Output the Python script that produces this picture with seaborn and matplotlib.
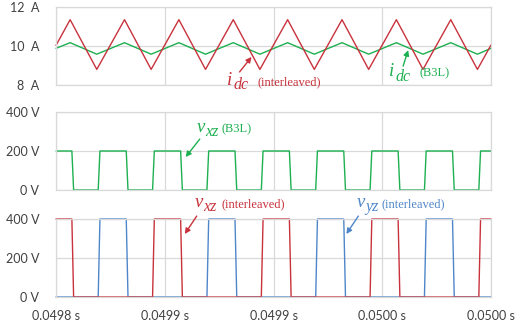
import matplotlib
matplotlib.use("Agg")
import matplotlib.pyplot as plt
import seaborn as sns
import numpy as np
import pandas as pd

# ---- data (time in microseconds after 0.0498 s) ----
t0 = 0.0498
idc_t_us = [0, 6.5, 18.75, 31.5, 43.75, 56.5, 68.75, 81.5, 93.75, 106.5, 118.75,
            131.5, 143.75, 156.5, 168.75, 181.5, 193.75, 200]
idc_interleaved = [10.03, 11.35, 8.8, 11.35, 8.8, 11.35, 8.8, 11.35, 8.8, 11.35, 8.8,
                   11.35, 8.8, 11.35, 8.8, 11.35, 8.8, 10.05]
idc_b3l = [9.88, 10.17, 9.58, 10.17, 9.58, 10.17, 9.58, 10.17, 9.58, 10.17, 9.58,
           10.17, 9.58, 10.17, 9.58, 10.17, 9.58, 9.88]

vxz_b3l_t_us = [0, 7.3, 8.1, 19.4, 20.2, 32.3, 33.1, 44.4, 45.2, 57.3, 58.1, 69.4, 70.2,
                82.3, 83.1, 94.4, 95.2, 107.3, 108.1, 119.4, 120.2, 132.3, 133.1, 144.4,
                145.2, 157.3, 158.1, 169.4, 170.2, 182.3, 183.1, 194.4, 195.2, 200]
vxz_b3l = [200, 200, 0, 0, 200, 200, 0, 0, 200, 200, 0, 0, 200,
           200, 0, 0, 200, 200, 0, 0, 200, 200, 0, 0,
           200, 200, 0, 0, 200, 200, 0, 0, 200, 200]

vxz_int_t_us = [0, 7.3, 8.1, 44.4, 45.2, 57.3, 58.1, 94.4, 95.2, 107.3, 108.1,
                144.4, 145.2, 157.3, 158.1, 194.4, 195.2, 200]
vxz_interleaved = [400, 400, 0, 0, 400, 400, 0, 0, 400, 400, 0,
                   0, 400, 400, 0, 0, 400, 400]

vyz_int_t_us = [0, 19.4, 20.2, 32.3, 33.1, 69.4, 70.2, 82.3, 83.1, 119.4, 120.2,
                132.3, 133.1, 169.4, 170.2, 182.3, 183.1, 200]
vyz_interleaved = [0, 0, 400, 400, 0, 0, 400, 400, 0, 0, 400,
                   400, 0, 0, 400, 400, 0, 0]

x_tick_us = [0, 50, 100, 150, 200]
x_tick_labels = ["0.0498 s", "0.0499 s", "0.0499 s", "0.0500 s", "0.0500 s"]
idc_ticks = [8, 10, 12]
idc_tick_labels = ["8  A", "10  A", "12  A"]
v_ticks = [0, 200, 400]
v_tick_labels = ["0 V", "200 V", "400 V"]

RED = "#c8323c"
GREEN = "#1db050"
BLUE = "#4f86c9"
GRID = "#d9d9d9"

FW, FH = 528, 331


def sec(us):
    return [t0 + u * 1e-6 for u in us]


sns.set_theme(style="white")
plt.rcParams["font.family"] = ["Lato", "DejaVu Sans"]

fig = plt.figure(figsize=(FW / 100, FH / 100), dpi=100)
L, W, H = 56 / FW, 435 / FW, 78 / FH
ax1 = fig.add_axes([L, (FH - 85) / FH, W, H])
ax2 = fig.add_axes([L, (FH - 190) / FH, W, H])
ax3 = fig.add_axes([L, (FH - 297) / FH, W, H])


def line(ax, tus, vals, color):
    df = pd.DataFrame({"t": sec(tus), "v": vals})
    sns.lineplot(data=df, x="t", y="v", ax=ax, color=color, lw=1.0,
                 estimator=None, sort=False)
    ax.lines[-1].set_clip_on(False)


line(ax1, idc_t_us, idc_b3l, GREEN)
line(ax1, idc_t_us, idc_interleaved, RED)
line(ax2, vxz_b3l_t_us, vxz_b3l, GREEN)
line(ax3, vyz_int_t_us, vyz_interleaved, BLUE)
line(ax3, vxz_int_t_us, vxz_interleaved, RED)

for ax, yt, yl, lim in [(ax1, idc_ticks, idc_tick_labels, (8, 12)),
                        (ax2, v_ticks, v_tick_labels, (0, 400)),
                        (ax3, v_ticks, v_tick_labels, (0, 400))]:
    ax.set_xlim(t0, t0 + 200e-6)
    ax.set_ylim(*lim)
    ax.set_xticks(sec(x_tick_us))
    ax.set_yticks(yt)
    ax.set_yticklabels(yl)
    ax.set_xlabel("")
    ax.set_ylabel("")
    ax.grid(True, color=GRID, lw=0.9)
    ax.set_axisbelow(True)
    for s in ax.spines.values():
        s.set_color(GRID)
        s.set_linewidth(0.9)
    ax.tick_params(axis="both", length=0, labelsize=9, colors="#404040")
    ax.tick_params(axis="y", pad=12)
    ax.set_xticklabels([])

ax3.set_xticklabels(x_tick_labels)
ax3.tick_params(axis="x", pad=9)


def t_(us):
    return t0 + us * 1e-6


def fp(x, y):
    return x / FW, 1 - y / FH


def label(sym, sub, name, x_sym, x_sub, x_name, base, sub_drop, color):
    serif = "Liberation Serif"
    fig.text(*fp(x_sym, base), sym, color=color, fontsize=13.5, family=serif,
             style="italic", ha="left", va="baseline")
    fig.text(*fp(x_sub, base + sub_drop), sub, color=color, fontsize=11.5,
             family=serif, style="italic", ha="left", va="baseline")
    fig.text(*fp(x_name, base), name, color=color, fontsize=9, family=serif,
             ha="left", va="baseline")


def arrow(ax, tail_us, tail_y, head_us, head_y, color):
    ax.annotate("", xy=(t_(head_us), head_y), xytext=(t_(tail_us), tail_y),
                arrowprops=dict(arrowstyle="-|>", color=color, lw=1.0,
                                mutation_scale=8, shrinkA=0, shrinkB=0),
                annotation_clip=False)


label("i", "dc", "(interleaved)", 227, 234, 258, 85, 4, RED)
label("i", "dc", "(B3L)", 389, 396, 419, 76, 5, GREEN)
label("v", "xz", "(B3L)", 197, 205, 221, 132, 4, GREEN)
label("v", "xz", "(interleaved)", 195, 203, 221, 207, 4, RED)
label("v", "yz", "(interleaved)", 357, 365, 381, 207, 4, BLUE)

arrow(ax1, 84.4, 8.67, 89.9, 9.44, RED)
arrow(ax1, 159.6, 8.97, 161.9, 9.79, GREEN)
arrow(ax2, 66.1, 261, 59.6, 169, GREEN)
arrow(ax3, 64.7, 415, 59.2, 323, RED)
arrow(ax3, 139.0, 415, 133.5, 323, BLUE)

fig.savefig("out.png", dpi=100)
